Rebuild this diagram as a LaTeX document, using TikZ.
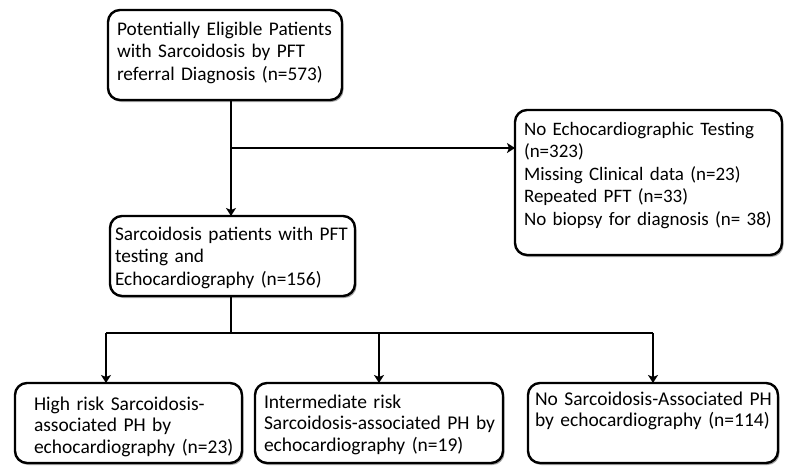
\documentclass[tikz,border=0pt]{standalone}
\usepackage{fontspec}
\setmainfont{Carlito}
\usetikzlibrary{arrows.meta,shadows}

% lines of a box, never rewrapped
\newcommand{\boxlines}[1]{\begin{tabular}[t]{@{}l@{}}#1\end{tabular}}

\tikzset{
  flowbox/.style={draw, line width=2.4pt, rounded corners=12pt, fill=white,
    anchor=north west, inner xsep=9pt, inner ysep=0pt, outer sep=0pt,
    font=\fontsize{19.3}{22.5}\selectfont,
    drop shadow={shadow xshift=1.5pt, shadow yshift=-2pt, opacity=.35, fill=black}},
  lowbox/.style={flowbox, font=\fontsize{19.5}{21.7}\selectfont},
  link/.style={line width=2.2pt},
  arrow/.style={link, -{Stealth[length=8pt,width=10pt,inset=2pt]}}
}

\begin{document}
\begin{tikzpicture}[x=1pt,y=-1pt]
        \useasboundingbox (0,0) rectangle (786,474);

        % boxes
        \node[flowbox, text width=216pt, text height=25pt, text depth=65pt] (eligible) at (108,10)
            {\boxlines{Potentially Eligible Patients\\with Sarcoidosis by PFT\\referral Diagnosis (n=573)}};
        \node[flowbox, inner xsep=5pt, text width=235pt, text height=24pt, text depth=56pt] (tested) at (110,216)
            {\boxlines{Sarcoidosis patients with PFT\\testing and\\Echocardiography (n=156)}};
        \node[flowbox, font=\fontsize{19}{22.5}\selectfont, text width=249pt, text height=25pt, text depth=120pt] (excluded) at (515,110)
            {\boxlines{No Echocardiographic Testing\\(n=323)\\Missing Clinical data (n=23)\\Repeated PFT (n=33)\\No biopsy for diagnosis (n= 38)}};

        \node[lowbox, inner xsep=19pt, text width=189pt, text height=27pt, text depth=53pt] (highrisk) at (15,383)
            {\boxlines{High risk Sarcoidosis-\\associated PH by\\echocardiography (n=23)}};
        \node[lowbox, text width=230pt, text height=25pt, text depth=55pt] (midrisk) at (255,383)
            {\boxlines{Intermediate risk\\Sarcoidosis-associated PH by\\echocardiography (n=19)}};
        \node[lowbox, inner xsep=7pt, text width=236pt, text height=22pt, text depth=58pt] (nosaph) at (528,383)
            {\boxlines{No Sarcoidosis-Associated PH\\by echocardiography (n=114)}};

        % connectors
        \coordinate (split) at (231,148);
        \coordinate (forkL) at (106,333);
        \coordinate (forkR) at (653,333);

        \draw[arrow] (split |- eligible.south) -- (split |- tested.north);
        \draw[arrow] (split) -- (split -| excluded.west);

        \draw[link] (split |- tested.south) -- (split |- forkL);
        \draw[link] (forkL) -- (forkR);
        \draw[arrow] (forkL) -- (forkL |- highrisk.north);
        \draw[arrow] (midrisk.north |- forkL) -- (midrisk.north);
        \draw[arrow] (forkR) -- (forkR |- nosaph.north);

\end{tikzpicture}
\end{document}
